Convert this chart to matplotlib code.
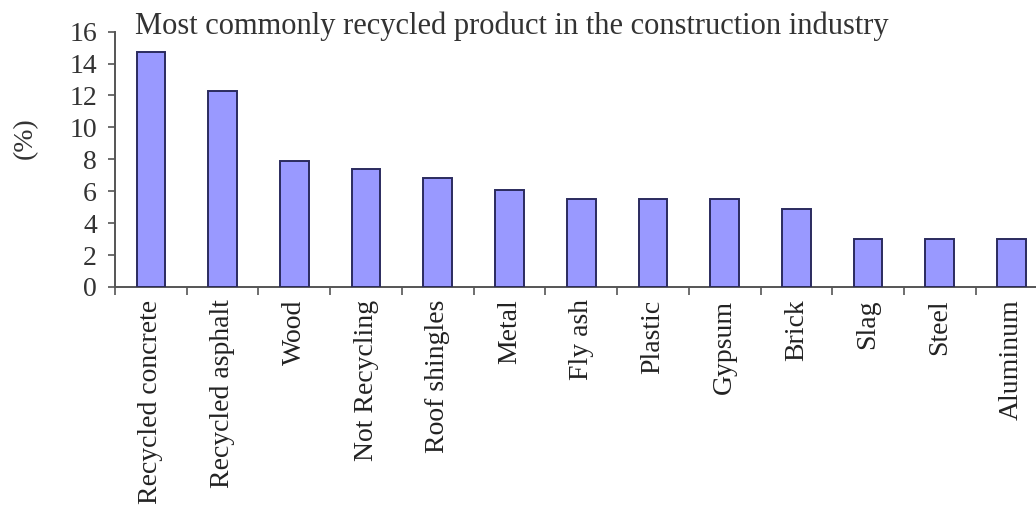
import numpy as np
import matplotlib
matplotlib.use('Agg')
import matplotlib.pyplot as plt

# Share of respondents naming each product (%)
products = ['Recycled concrete', 'Recycled asphalt', 'Wood', 'Not Recycling',
            'Roof shingles', 'Metal', 'Fly ash', 'Plastic', 'Gypsum', 'Brick',
            'Slag', 'Steel', 'Aluminum']
shares = [14.7, 12.3, 7.9, 7.4, 6.8, 6.1, 5.5, 5.5, 5.5, 4.9, 3.0, 3.0, 3.0]
y_ticks = [0, 2, 4, 6, 8, 10, 12, 14, 16]

plt.rcParams['font.family'] = ['Liberation Serif', 'DejaVu Serif']

fig = plt.figure(figsize=(10.36, 5.16), dpi=100)
ax = fig.add_axes([0.111, 0.4438, 0.9, 0.4950])

x = np.arange(len(products))
ax.bar(x, shares, width=0.4, color='#9999ff', edgecolor='#2b2b5e',
       linewidth=1.4, zorder=3)

ax.set_xlim(-0.5, len(products) - 0.5)
ax.set_ylim(0, 16)
ax.set_yticks(y_ticks)
ax.set_yticklabels([str(t) for t in y_ticks], fontsize=20, color='#333333')

# category labels sit between boundary ticks
ax.set_xticks(x)
ax.set_xticklabels(products, rotation=90, fontsize=20, color='#222222',
                   va='top', ha='center')
ax.tick_params(axis='x', which='major', length=0, pad=9)
ax.set_xticks(np.arange(len(products) + 1) - 0.5, minor=True)
ax.tick_params(axis='x', which='minor', length=6, width=1.2,
               color='#555555', direction='out')
ax.tick_params(axis='y', length=5, width=1.2, color='#555555',
               direction='out', pad=8)

for side in ('top', 'right'):
    ax.spines[side].set_visible(False)
for side in ('left', 'bottom'):
    ax.spines[side].set_color('#555555')
    ax.spines[side].set_linewidth(1.4)

fig.text(0.024, 0.733, '(%)', rotation=90, fontsize=20, color='#333333',
         ha='center', va='center')
fig.text(0.130, 0.977, 'Most commonly recycled product in the construction industry',
         fontsize=22, color='#333333', ha='left', va='top')

fig.savefig('out.png', dpi=100)
plt.close(fig)
